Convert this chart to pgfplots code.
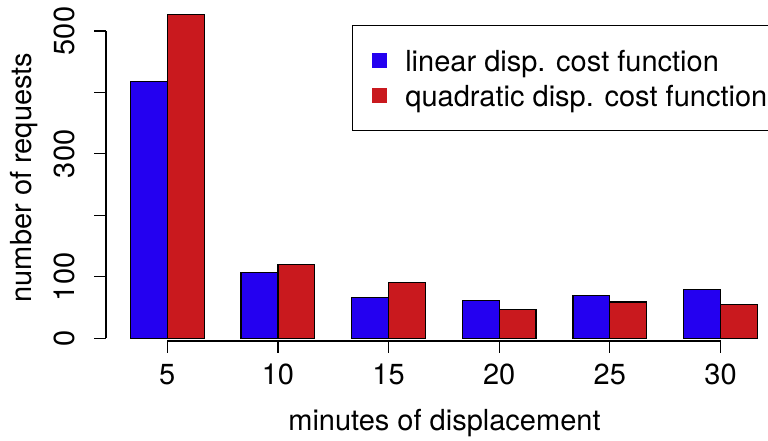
\documentclass[border=0pt]{standalone}
\usepackage{fontspec}
\setmainfont{TeX Gyre Heros}
\usepackage{pgfplots}
\pgfplotsset{compat=1.18}
\definecolor{rblue}{RGB}{36,0,240}
\definecolor{rred}{RGB}{201,25,30}
\begin{document}
\begin{tikzpicture}
\begin{axis}[
  scale only axis, width=662pt, height=341pt,
  xmin=-0.5541, xmax=5.4293, ymin=-4.39, ymax=550.35,
  clip=false,
  axis line style={draw=none},
  tick align=outside, major tick length=11.5pt,
  tick style={black, line width=1.2pt},
  tick pos=left,
  xtick={0,1,2,3,4,5}, xticklabels={5,10,15,20,25,30},
  ytick={0,100,200,300,400,500}, yticklabels={0,100,,300,,500},
  /pgf/number format/assume math mode=true,
  ticklabel style={font=\fontsize{29}{34}\selectfont},
  xticklabel style={anchor=base, yshift=-31.5pt},
  yticklabel style={xshift=-19.5pt, rotate=90, anchor=base},
  label style={font=\fontsize{29}{34}\selectfont},
  xlabel={minutes of displacement},
  ylabel={number of requests},
  xlabel style={at={(axis cs:2.5054,-149.2)}, anchor=base},
  ylabel style={at={(axis cs:-1.2274,261.6)}, anchor=base},
  legend cell align=left,
  legend style={at={(axis cs:1.6667,509.7)}, anchor=north west, draw=black,
    line width=1.2pt, fill=white, inner xsep=19.3pt, inner ysep=17.5pt,
    column sep=18.5pt, row sep=0pt, font=\fontsize{29}{34}\selectfont,
    nodes={inner sep=0pt, text height=28.2pt, text depth=6.8pt}},
]
\addplot[ybar, bar width=36.88pt, bar shift=-18.44pt, fill=rblue, draw=black, line width=1.2pt,
  legend image code/.code={\fill[rblue] (0pt,-7pt) rectangle (14pt,7pt);}]
  coordinates {(0,418) (1,107) (2,67) (3,62) (4,69) (5,80)};
\addplot[ybar, bar width=36.88pt, bar shift=18.44pt, fill=rred, draw=black, line width=1.2pt,
  legend image code/.code={\fill[rred] (0pt,-7pt) rectangle (14pt,7pt);}]
  coordinates {(0,527) (1,120) (2,91) (3,47) (4,59) (5,55)};
\legend{linear disp. cost function, quadratic disp. cost function}
\draw[line width=1.2pt] (axis cs:-0.5541,0) -- (axis cs:-0.5541,500);
\draw[line width=1.2pt] (axis cs:0,-4.39) -- (axis cs:5,-4.39);
\coordinate (bbsw) at (axis cs:-1.5120,-165.45);
\coordinate (bbne) at (axis cs:5.4293,550.35);
\end{axis}
\pgfresetboundingbox
\path[use as bounding box] (bbsw) rectangle (bbne);
\end{tikzpicture}
\end{document}
